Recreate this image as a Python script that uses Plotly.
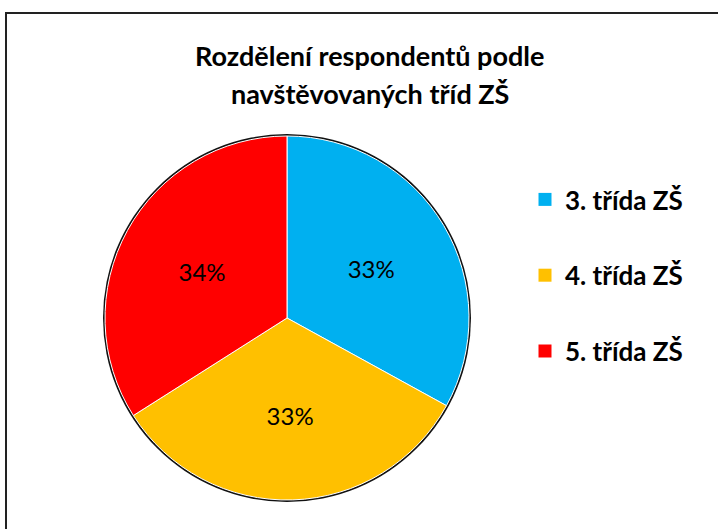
import plotly.graph_objects as go

categories = ["3. třída ZŠ", "4. třída ZŠ", "5. třída ZŠ"]
values = [33, 33, 34]
colors = ["#00B0F0", "#FFC000", "#FF0000"]
title_lines = ["Rozdělení respondentů podle", "navštěvovaných tříd ZŠ"]

W, H = 718, 529
cx, cy, r = 287, 318, 182

def dom(rad):
    return dict(x=[(cx - rad) / W, (cx + rad) / W], y=[1 - (cy + rad) / H, 1 - (cy - rad) / H])

fig = go.Figure()
fig.add_trace(go.Pie(values=[1], marker=dict(colors=["#111111"]), domain=dom(r + 2),
                     textinfo="none", hoverinfo="skip", showlegend=False, sort=False))
fig.add_trace(go.Pie(labels=categories, values=values, sort=False, direction="clockwise",
                     rotation=0, marker=dict(colors=colors, line=dict(color="white", width=1)),
                     domain=dom(r), texttemplate="%{percent:.0%}", textposition="inside",
                     insidetextorientation="horizontal",
                     textfont=dict(family="Lato", size=24, color="black"),
                     insidetextfont=dict(family="Lato", size=24, color="black"),
                     showlegend=False))
for c, col in zip(categories, colors):
    fig.add_trace(go.Scatter(x=[None], y=[None], mode="markers", name=c, legendgroup=c,
                             marker=dict(symbol="square", size=13, color=col)))

annotations = [
    dict(text=t, x=0.515, y=1 - yc / H, xref="paper", yref="paper", xanchor="center",
         yanchor="middle", showarrow=False,
         font=dict(family="Lato", size=27, color="black", weight="bold"))
    for t, yc in zip(title_lines, [55, 93])
]

fig.update_layout(
    width=W, height=H, margin=dict(l=0, r=0, t=0, b=0),
    paper_bgcolor="white", plot_bgcolor="white",
    xaxis=dict(visible=False), yaxis=dict(visible=False),
    annotations=annotations,
    legend=dict(x=525 / W, xanchor="left", y=1 - 176 / H, yanchor="top",
                font=dict(family="Lato", size=26, color="black", weight="bold"),
                tracegroupgap=39, itemwidth=30, bgcolor="rgba(0,0,0,0)"),
    shapes=[dict(type="rect", xref="paper", yref="paper", x0=6 / W, x1=1.05,
                 y0=-0.05, y1=1 - 13 / H, line=dict(color="#222", width=2))],
)
fig.write_html("out.html", config={"displayModeBar": False},
               post_script="document.body.style.margin='0';")
